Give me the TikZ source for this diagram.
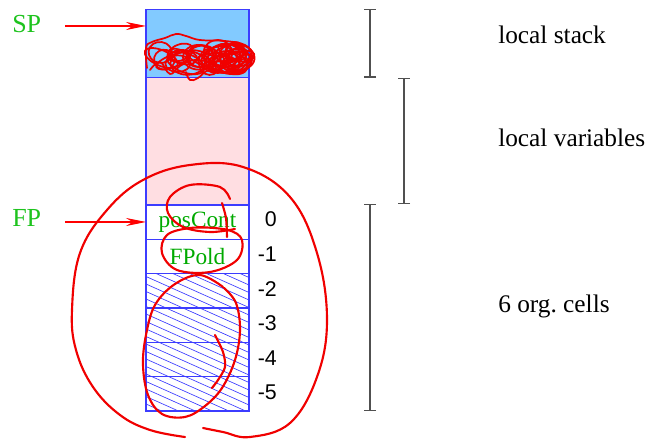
\documentclass[tikz,border=0pt]{standalone}
\usepackage{fontspec}
\setmainfont{Liberation Serif}
\newfontfamily\numfont{Liberation Sans}
\usetikzlibrary{arrows.meta,decorations.pathmorphing}
\definecolor{stackblue}{RGB}{130,202,255}
\definecolor{varpink}{RGB}{255,222,226}
\definecolor{cellblue}{RGB}{60,60,255}
\definecolor{ptrgreen}{RGB}{30,195,30}
\definecolor{cellgreen}{RGB}{0,170,0}
\definecolor{brk}{RGB}{80,80,80}
\definecolor{scrib}{RGB}{240,0,0}
\tikzset{
  box/.style={draw=cellblue, line width=0.8pt, inner sep=0pt, outer sep=0pt,
    minimum width=77.25pt, font=\fontsize{17.5}{20}\selectfont, text=cellgreen},
  ptr/.style={text=ptrgreen, font=\fontsize{19.5}{22}\selectfont, inner sep=0pt, anchor=base west},
  ptrarrow/.style={draw=red, line width=0.8pt, -{Stealth[length=15pt, width=6pt, inset=5pt]}},
  num/.style={font=\numfont\fontsize{16}{18}\selectfont, inner sep=0pt, anchor=base east},
  bracket/.style={draw=brk, line width=0.9pt, {Bar[width=9pt]}-{Bar[width=9pt]}},
  lbl/.style={font=\fontsize{19}{22}\selectfont, inner sep=0pt, anchor=base west},
  hatch/.style={draw=cellblue, line width=0.5pt},
  redpen/.style={draw=scrib, line width=1.6pt, line cap=round, line join=round},
  thinpen/.style={draw=scrib, line width=1.3pt, line cap=round, line join=round}
}
\begin{document}
\begin{tikzpicture}[x=0.75pt,y=-0.75pt]
\useasboundingbox (0,0) rectangle (657,441);
% stack regions
\node[box, fill=stackblue, minimum height=51pt] (ls) at (197.5,43.3) {};
\node[box, fill=varpink, minimum height=95.25pt] (lv) at (197.5,141) {};
% cells
\node[box, minimum height=25.75pt] (c0) at (197.5,222.17) {posCont};
\node[box, minimum height=25.75pt] (c1) at (197.5,256.5) {FPold};
\node[box, minimum height=25.75pt] (c2) at (197.5,290.83) {};
\node[box, minimum height=25.75pt] (c3) at (197.5,325.17) {};
\node[box, minimum height=25.75pt] (c4) at (197.5,359.5) {};
\node[box, minimum height=25.75pt] (c5) at (197.5,393.83) {};
% hatching
\begin{scope}
\clip (c2.north west) rectangle (c5.south east);
\foreach \k in {0,...,26} {
  \draw[hatch] (146,224+7.5*\k) -- ++(103,46);
}
\end{scope}
\foreach \c in {c2,c3,c4,c5} { \draw[draw=cellblue, line width=0.8pt] (\c.north west) rectangle (\c.south east); }
% numbers
\node[num] (n0) at (277,227) {0};
\node[num] (n1) at (277,262) {-1};
\node[num] (n2) at (277,297) {-2};
\node[num] (n3) at (277,331) {-3};
\node[num] (n4) at (277,366) {-4};
\node[num] (n5) at (277,400) {-5};
% pointers
\node[ptr] (sp) at (12,33) {SP};
\node[ptr] (fp) at (12,227) {FP};
\coordinate (spa) at (65,26);
\coordinate (fpa) at (65,222);
\draw[ptrarrow] (spa) -- (ls.west |- spa);
\draw[ptrarrow] (fpa) -- (c0.west |- fpa);
% brackets
\coordinate (b1t) at (370,9.3);
\coordinate (b1b) at (370,77.7);
\coordinate (b2t) at (404,77.7);
\coordinate (b2b) at (404,204.3);
\coordinate (b3t) at (370,204.3);
\coordinate (b3b) at (370,411);
\draw[bracket] (b1t) -- (b1b);
\draw[bracket] (b2t) -- (b2b);
\draw[bracket] (b3t) -- (b3b);
\node[lbl] (l1) at (498,44) {local stack};
\node[lbl] (l2) at (498,147) {local variables};
\node[lbl] (l3) at (498,313) {6 org.\ cells};
% red scribble blob in the local stack
\pgfmathsetseed{4711}
\foreach \i in {1,...,34} {
  \pgfmathsetmacro{\cx}{160+80*rnd}
  \pgfmathsetmacro{\cy}{52+12*rnd}
  \pgfmathsetmacro{\rx}{8+12*rnd}
  \pgfmathsetmacro{\ry}{6+8*rnd}
  \pgfmathsetmacro{\rot}{-25+50*rnd}
  \draw[thinpen, rotate around={\rot:(\cx,\cy)}] (\cx,\cy) ellipse [x radius=\rx*0.75pt, y radius=\ry*0.75pt];
}
\draw[thinpen] plot[smooth, tension=0.7] coordinates {(147,68) (146,48) (152,42) (165,38) (176,34) (186,36) (200,40) (225,41) (245,45) (252,55) (248,68) (232,74) (210,70) (198,78) (190,80) (186,72)};
\draw[thinpen] plot[smooth, tension=0.7] coordinates {(150,70) (160,62) (170,74) (180,66) (195,60) (215,64) (235,72) (250,60)};
% big loop
\draw[redpen] plot[smooth, tension=0.65] coordinates {(185,437) (150,430) (120,415) (93,387) (76,350) (72,310) (80,253) (107,210) (143,180) (190,165) (243,167) (290,197) (317,253) (327,320) (317,377) (290,423) (250,437) (223,432) (203,428)};
% posCont loop
\draw[redpen] plot[smooth, tension=0.6] coordinates {(230,199) (220,187) (190,185) (170,197) (168,213) (183,227) (210,232) (235,229)};
\draw[redpen] plot[smooth] coordinates {(222,203) (226,218) (227,237)};
% FPold ellipse
\draw[redpen] plot[smooth, tension=0.6] coordinates {(197,227) (228,230) (242,240) (237,260) (210,272) (177,270) (162,253) (167,235) (190,228) (217,228)};
% hatched oval
\draw[redpen] plot[smooth, tension=0.6] coordinates {(223,287) (200,275) (175,284) (155,305) (146,335) (143,365) (148,395) (162,414) (185,417) (205,406) (222,388) (235,360) (240,330) (236,303) (224,288)};
\draw[redpen] plot[smooth, tension=0.5] coordinates {(215,335) (223,352) (225,367) (218,380) (212,388)};
\end{tikzpicture}
\end{document}
